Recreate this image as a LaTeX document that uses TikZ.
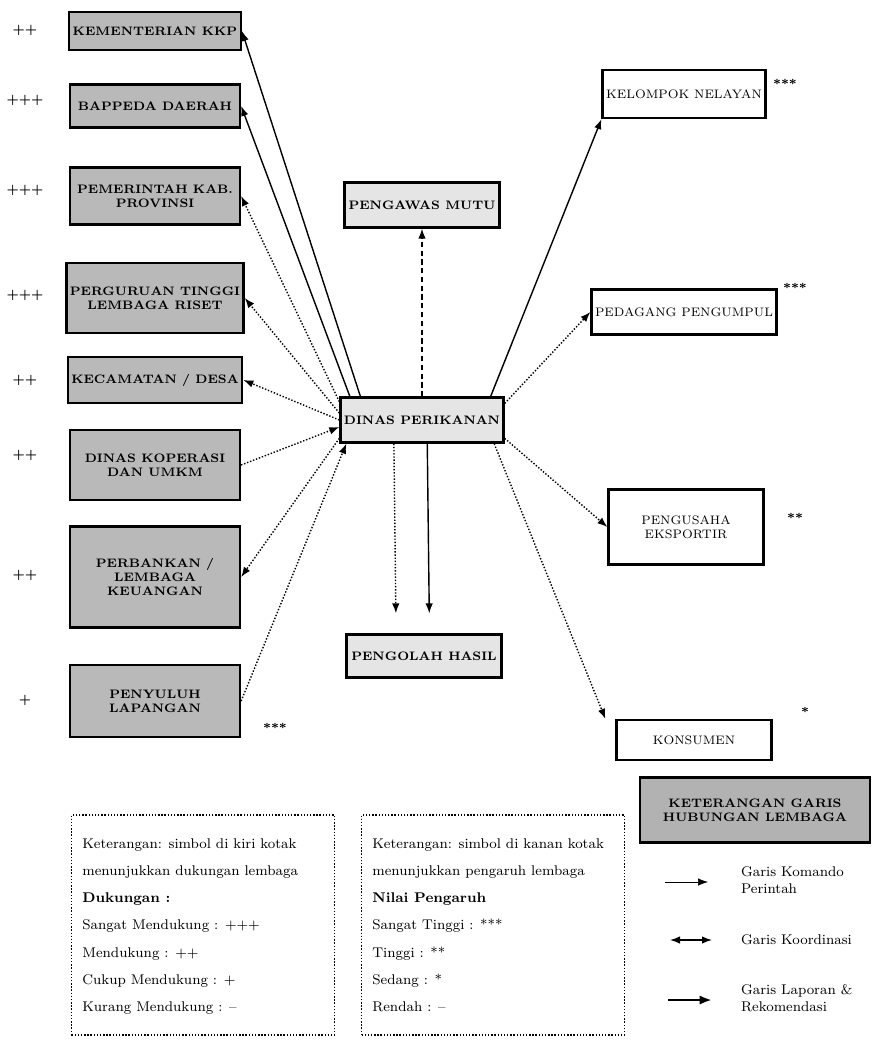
\documentclass[tikz,border=0pt]{standalone}
\usepackage{tikz}
\usetikzlibrary{arrows.meta,positioning}

\begin{document}
\begin{tikzpicture}[
    x=0.2mm,y=-0.2mm,
    lem/.style={draw,line width=1.3pt,fill=gray!55,align=center,font=\scriptsize\bfseries,minimum width=34mm,inner sep=2pt},
    mid/.style={draw,line width=1.3pt,fill=gray!20,align=center,font=\scriptsize\bfseries,minimum width=31mm,minimum height=9mm,inner sep=2pt},
    pel/.style={draw,line width=1.3pt,fill=white,align=center,font=\scriptsize,minimum width=31mm,inner sep=2pt},
    sym/.style={font=\scriptsize\bfseries},
    ket/.style={draw,densely dotted,thick,minimum width=52.6mm,minimum height=44mm},
    arr/.style={-{Latex[length=2mm]},thick},
    arrd/.style={arr,densely dashed},
    ldash/.style={densely dotted,thick,-{Latex[length=2mm]}}
]
\useasboundingbox (0,0) rectangle (875,1045);

% left column
\node[lem,minimum height=7.6mm] (l1) at (155,31) {KEMENTERIAN KKP};
\node[lem,minimum height=8.6mm] (l2) at (155,106) {BAPPEDA DAERAH};
\node[lem,minimum height=11.4mm] (l3) at (155,196) {PEMERINTAH KAB.\\PROVINSI};
\node[lem,minimum height=14mm] (l4) at (155,298) {PERGURUAN TINGGI\\LEMBAGA RISET};
\node[lem,minimum height=9.2mm] (l5) at (155,380) {KECAMATAN / DESA};
\node[lem,minimum height=14mm] (l6) at (155,465) {DINAS KOPERASI\\DAN UMKM};
\node[lem,minimum height=20.2mm] (l7) at (155,577) {PERBANKAN /\\LEMBAGA\\KEUANGAN};
\node[lem,minimum height=14.4mm] (l8) at (155,701) {PENYULUH\\LAPANGAN};

\node[sym] (s1) at (25,30) {++};
\node[sym] (s2) at (25,100) {+++};
\node[sym] (s3) at (25,190) {+++};
\node[sym] (s4) at (25,295) {+++};
\node[sym] (s5) at (25,380) {++};
\node[sym] (s6) at (25,455) {++};
\node[sym] (s7) at (25,575) {++};
\node[sym] (s8) at (25,700) {+};
\node[sym] (s9) at (275,728) {***};

% middle column
\node[mid] (c1) at (422,205) {PENGAWAS MUTU};
\node[mid] (cc) at (422,420) {DINAS PERIKANAN};
\node[mid,minimum height=8.6mm] (c2) at (424,656) {PENGOLAH HASIL};

% right column
\node[pel,minimum height=9.6mm] (r1) at (684,94) {KELOMPOK NELAYAN};
\node[pel,minimum height=9mm] (r2) at (684,312) {PEDAGANG PENGUMPUL};
\node[pel,minimum height=15mm] (r3) at (686,527) {PENGUSAHA\\EKSPORTIR};
\node[pel,minimum height=8mm] (r4) at (694,740) {KONSUMEN};

\node[sym] (t1) at (785,84) {***};
\node[sym] (t2) at (795,288) {***};
\node[sym] (t3) at (795,518) {**};
\node[sym] (t4) at (805,712) {*};

\draw[arr] ([xshift=12pt]cc.north west) -- (l1.east);
\draw[arr] ([xshift=6pt]cc.north west) -- (l2.east);
\draw[ldash] ([yshift=-3pt]cc.north west) -- (l3.east);
\draw[ldash] ([yshift=4pt]cc.west) -- (l4.east);
\draw[ldash] (cc.west) -- (l5.east);
\draw[ldash] (l6.east) -- ([yshift=-4pt]cc.west);
\draw[ldash] ([yshift=3pt]cc.south west) -- (l7.east);
\draw[ldash] (l8.east) -- ([xshift=4pt]cc.south west);

\draw[arrd] (cc) -- (c1);
\draw[arr] ([xshift=3pt]cc.south) -- ([xshift=3pt,yshift=4mm]c2.north);
\draw[ldash] ([xshift=-16pt]cc.south) -- ([xshift=-16pt,yshift=4mm]c2.north);

\draw[arr] ([xshift=-8pt]cc.north east) -- (r1.south west);
\draw[ldash] ([yshift=-4pt]cc.north east) -- (r2.west);
\draw[ldash] ([yshift=3pt]cc.south east) -- (r3.west);
\draw[ldash] ([xshift=-6pt]cc.south east) -- ([xshift=-2mm]r4.north west);

% keterangan
\node[ket] (k1) at (203,925) {};
\node[anchor=north west,align=left,font=\footnotesize,inner sep=0pt] (k1t) at (82,838)
  {Keterangan: simbol di kiri kotak\\[6pt]
   menunjukkan dukungan lembaga\\[6pt]
   \textbf{Dukungan :}\\[6pt]
   Sangat Mendukung : +++\\[6pt]
   Mendukung : ++\\[6pt]
   Cukup Mendukung : +\\[6pt]
   Kurang Mendukung : --};
\node[ket] (k2) at (493,925) {};
\node[anchor=north west,align=left,font=\footnotesize,inner sep=0pt] (k2t) at (372,838)
  {Keterangan: simbol di kanan kotak\\[6pt]
   menunjukkan pengaruh lembaga\\[6pt]
   \textbf{Nilai Pengaruh}\\[6pt]
   Sangat Tinggi : ***\\[6pt]
   Tinggi : **\\[6pt]
   Sedang : *\\[6pt]
   Rendah : --};

\node[draw,line width=1.3pt,fill=gray!60,align=center,font=\scriptsize\bfseries,minimum width=46mm,minimum height=13mm,inner sep=2pt] (kg) at (755,810)
  {KETERANGAN GARIS\\HUBUNGAN LEMBAGA};

\coordinate (g1a) at (665,882);
\coordinate (g1b) at (708,882);
\coordinate (g2a) at (670,940);
\coordinate (g2b) at (712,940);
\coordinate (g3a) at (668,1000);
\coordinate (g3b) at (712,1000);
\draw[-{Latex[length=2mm]},thin] (g1a) -- (g1b);
\draw[{Latex[length=2mm]}-{Latex[length=2mm]},thick] (g2a) -- (g2b);
\draw[-{Latex[length=2.5mm]},line width=1.6pt] (g3a) -- (g3b);
\node[anchor=west,align=left,font=\footnotesize] (g1) at (735,880) {Garis Komando\\Perintah};
\node[anchor=west,font=\footnotesize] (g2) at (735,940) {Garis Koordinasi};
\node[anchor=west,align=left,font=\footnotesize] (g3) at (735,998) {Garis Laporan \&\\Rekomendasi};
\end{tikzpicture}
\end{document}
